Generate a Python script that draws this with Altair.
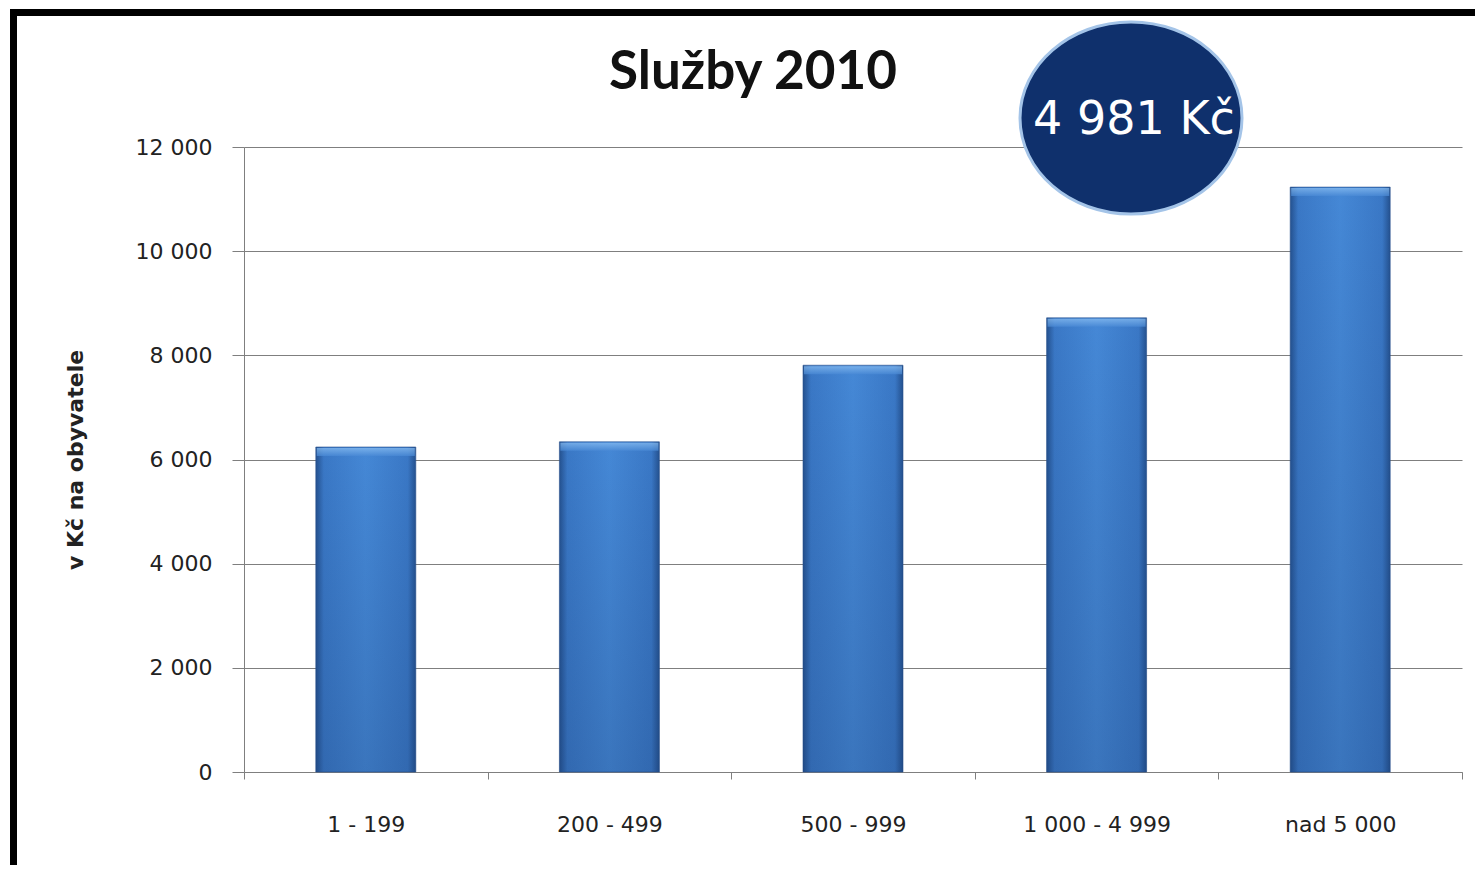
import altair as alt
import pandas as pd

categories = ["1 - 199", "200 - 499", "500 - 999", "1 000 - 4 999", "nad 5 000"]
values = [6240, 6340, 7810, 8720, 11230]
y_ticks = [0, 2000, 4000, 6000, 8000, 10000, 12000]
title_text = "Služby 2010"
badge_text = "4 981 Kč"
y_title = "v Kč na obyvatele"

df = pd.DataFrame({"cat": categories, "val": values})
W, H = 1218, 625
PL, PT = 236, 139

xenc = alt.X(
    "cat:N", sort=categories,
    scale=alt.Scale(paddingInner=0, paddingOuter=0),
    axis=alt.Axis(title=None, labelAngle=0, tickBand="extent", tickSize=7,
                  tickColor="#7f7f7f", domainColor="#7f7f7f", labelPadding=45,
                  labelFont="DejaVu Sans", labelFontSize=22, labelColor="#222222",
                  labelBaseline="middle"),
)
yenc = alt.Y(
    "val:Q", scale=alt.Scale(domain=[0, 12000], nice=False),
    axis=alt.Axis(values=y_ticks, tickSize=12, tickColor="#7f7f7f", domainColor="#7f7f7f",
                  gridColor="#7f7f7f", grid=True, labelPadding=20,
                  labelFont="DejaVu Sans", labelFontSize=22, labelColor="#222222",
                  labelExpr="replace(format(datum.value, ','), regexp(',', 'g'), ' ')",
                  title=y_title, titleFont="DejaVu Sans", titleFontSize=22,
                  titleFontWeight="bold", titleColor="#222222", titleX=-169,
                  titleY=H / 2, titleAngle=270, titleBaseline="middle", titleAlign="center"),
)

base = alt.Chart(df)

bars = base.mark_bar(
    width=100,
    stroke="#2a528c", strokeWidth=1, strokeOpacity=0.6,
    color=alt.Gradient(
        gradient="linear", x1=0, x2=1, y1=0, y2=0,
        stops=[alt.GradientStop(color="#24518f", offset=0),
               alt.GradientStop(color="#3a78c6", offset=0.08),
               alt.GradientStop(color="#4588d6", offset=0.5),
               alt.GradientStop(color="#3a78c6", offset=0.92),
               alt.GradientStop(color="#24518f", offset=1)],
    ),
).encode(x=xenc, y=yenc)

shade = base.mark_bar(
    width=100,
    color=alt.Gradient(
        gradient="linear", x1=0, x2=0, y1=0, y2=1,
        stops=[alt.GradientStop(color="rgba(20,50,100,0)", offset=0),
               alt.GradientStop(color="rgba(20,50,100,0.22)", offset=1)],
    ),
).encode(x=alt.X("cat:N", sort=categories), y="val:Q")

bevel = base.mark_tick(
    size=98, thickness=8, yOffset=5,
    color=alt.Gradient(
        gradient="linear", x1=0, x2=0, y1=0, y2=1,
        stops=[alt.GradientStop(color="#8cc0f3", offset=0),
               alt.GradientStop(color="#4a8ad6", offset=1)],
    ),
).encode(x=alt.X("cat:N", sort=categories), y="val:Q")

one = pd.DataFrame({"t": [title_text], "b": [badge_text]})

title = alt.Chart(one).mark_text(
    font="Lato", fontSize=53, fontWeight="bold", color="#111111",
    align="center", baseline="middle",
).encode(text="t:N", x=alt.value(753 - 8 - PL), y=alt.value(73 - 8 - PT))

ellipse_path = "M -1 0 A 1 0.865 0 1 1 1 0 A 1 0.865 0 1 1 -1 0 Z"
badge = alt.Chart(one).mark_point(
    shape=ellipse_path, size=222 * 222, filled=True, fill="#0f306c", fillOpacity=1,
    stroke="#a4c4e8", strokeWidth=3, opacity=1,
).encode(x=alt.value(1131 - 8 - PL), y=alt.value(118 - 8 - PT))

badge_text_mark = alt.Chart(one).mark_text(
    font="DejaVu Sans", fontSize=46, color="white", align="center", baseline="middle",
).encode(text="b:N", x=alt.value(1134 - 8 - PL), y=alt.value(120 - 8 - PT))

frame_left = alt.Chart(one).mark_rule(color="black", strokeWidth=7).encode(
    x=alt.value(13.5 - 8 - PL), y=alt.value(9 - 8 - PT), y2=alt.value(873 - 8 - PT)
)
frame_top = alt.Chart(one).mark_rule(color="black", strokeWidth=7).encode(
    y=alt.value(12.5 - 8 - PT), x=alt.value(10 - 8 - PL), x2=alt.value(1483 - 8 - PL)
)

chart = alt.layer(
    bars, shade, bevel, title, badge, badge_text_mark, frame_left, frame_top
).properties(
    width=W, height=H,
    autosize=alt.AutoSizeParams(type="none"),
    padding={"left": PL, "top": PT, "right": 1467 - PL - W, "bottom": 857 - PT - H},
    background="white",
).configure_view(stroke=None)

chart.save("out.html", embed_options={"renderer": "svg", "actions": False})
